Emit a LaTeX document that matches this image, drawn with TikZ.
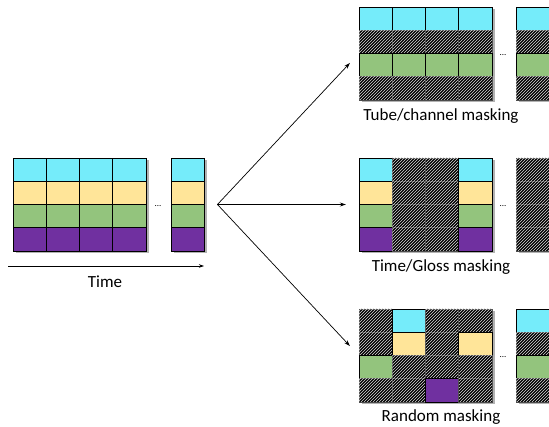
\documentclass[tikz,border=0pt]{standalone}
\usepackage{fontspec}
\setmainfont{Carlito}
\usetikzlibrary{arrows.meta,patterns,fit}
\definecolor{tokC}{HTML}{75ECFA}
\definecolor{tokY}{HTML}{FFE599}
\definecolor{tokG}{HTML}{93C47D}
\definecolor{tokP}{HTML}{7030A0}
% cell width and row height, in picture units
\def\cw{33.25}
\def\rh{23.25}
\tikzset{
  cellC/.style={fill=tokC,draw=black,line width=0.8pt},
  cellY/.style={fill=tokY,draw=black,line width=0.8pt},
  cellG/.style={fill=tokG,draw=black,line width=0.8pt},
  cellP/.style={fill=tokP,draw=black,line width=0.8pt},
  cellH/.style={fill=black,postaction={pattern=north east lines,pattern color=white!85!black},draw=black!70,line width=0.6pt},
  blockshadow/.style={fill=black,opacity=0.3},
  lbl/.style={font=\fontsize{17}{19}\selectfont,anchor=base},
  dots/.style={font=\fontsize{9}{10}\selectfont,inner sep=0pt},
  conn/.style={line width=0.7pt,-{Stealth[length=6pt,width=4pt]}},
}
% block of token cells: name, x, y, number of columns, rows
\newcommand\tokblock[5]{%
  \path[blockshadow] ({#2+2.5},{#3+2.5}) rectangle ++({#4*\cw},{4*\rh});
  \foreach \rowcells [count=\r from 0] in {#5} {
    \foreach \t [count=\c from 0] in \rowcells {
      \path[cell\t] ({#2+\c*\cw},{#3+\r*\rh}) rectangle ++(\cw,\rh);
    }
  }
  \path ({#2},{#3}) coordinate (#1-nw) ({#2+#4*\cw},{#3+4*\rh}) coordinate (#1-se);
  \node[inner sep=0pt,fit=(#1-nw)(#1-se)] (#1) {};
}
\begin{document}
\begin{tikzpicture}[x=1pt,y=-1pt]
\useasboundingbox (0,0) rectangle (549,427);

% input sequence
\tokblock{inA}{13}{158}{4}{{C,C,C,C},{Y,Y,Y,Y},{G,G,G,G},{P,P,P,P}}
\tokblock{inB}{171}{158}{1}{{C},{Y},{G},{P}}
\node[dots] (inDots) at (158,206) {...};

% time axis
\coordinate (tStart) at (8,266);
\coordinate (tEnd) at (204,266);
\draw[line width=0.7pt,-{Stealth[length=5pt,width=3.5pt]}] (tStart) -- (tEnd);
\node[lbl] (timeLbl) at (105,288) {Time};

% tube / channel masking
\tokblock{tubeA}{359}{7}{4}{{C,C,C,C},{H,H,H,H},{G,G,G,G},{H,H,H,H}}
\tokblock{tubeB}{516}{7}{1}{{C},{H},{G},{H}}
\node[dots] (tubeDots) at (503,55) {...};
\node[lbl] (tubeLbl) at (441,121) {Tube/channel masking};

% time / gloss masking
\tokblock{glossA}{359}{158}{4}{{C,H,H,C},{Y,H,H,Y},{G,H,H,G},{P,H,H,P}}
\tokblock{glossB}{516}{158}{1}{{H},{H},{H},{H}}
\node[dots] (glossDots) at (503,206) {...};
\node[lbl] (glossLbl) at (441,272) {Time/Gloss masking};

% random masking
\tokblock{randA}{359}{309}{4}{{H,C,H,H},{H,Y,H,Y},{G,H,H,H},{H,H,P,H}}
\tokblock{randB}{516}{309}{1}{{C},{H},{G},{H}}
\node[dots] (randDots) at (503,357) {...};
\node[lbl] (randLbl) at (441,422) {Random masking};

% fan-out to the three masking strategies
\coordinate (fork) at ([xshift=13pt]inB.east);
\draw[conn,shorten >=13pt] (fork) -- (tubeA.west);
\draw[conn,shorten >=13pt] (fork) -- (glossA.west);
\draw[conn,shorten >=13pt] (fork) -- (randA.west);
\end{tikzpicture}
\end{document}
